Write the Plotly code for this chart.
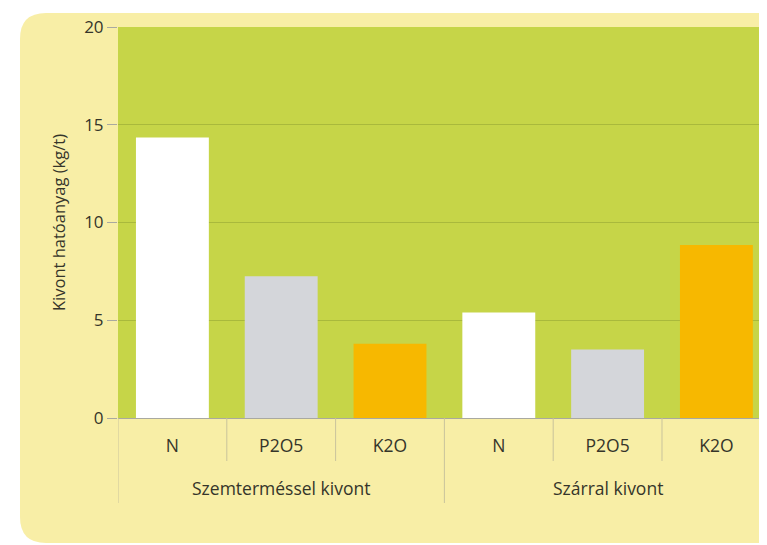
import plotly.graph_objects as go

groups = ["Szemterméssel kivont"] * 3 + ["Szárral kivont"] * 3
nutrients = ["N", "P2O5", "K2O", "N", "P2O5", "K2O"]
values = [14.35, 7.25, 3.8, 5.4, 3.5, 8.85]
bar_colors = ["#ffffff", "#d4d6da", "#f7b800", "#ffffff", "#d4d6da", "#f7b800"]
y_ticks = [0, 5, 10, 15, 20]

OFF = 8  # default body margin of the html page
W, H = 767, 545 - OFF
L, T = 118 - OFF, 27 - OFF
B, R = H - (418 - OFF), 0
pw, ph = W - L - R, H - T - B
cat_px = 108.8
FONT = "Open Sans, Lato, sans-serif"
TXT = "#35352a"

def px(x):
    return (x - OFF - L) / pw

def py(y):
    return (H - B - (y - OFF)) / ph

xi = list(range(len(nutrients)))

# rounded yellow panel (left corners rounded, right side runs off the page)
x0, x1, y0, y1 = px(20), px(840), py(543), py(13)
rx, ry = 26 / pw, 26 / ph
panel = (f"M {x0+rx},{y1} L {x1},{y1} L {x1},{y0} L {x0+rx},{y0} "
         f"Q {x0},{y0} {x0},{y0+ry} L {x0},{y1-ry} Q {x0},{y1} {x0+rx},{y1} Z")

shapes = [
    dict(type="path", xref="paper", yref="paper", path=panel,
         fillcolor="#f8eea6", line=dict(width=0), layer="below"),
    dict(type="rect", xref="paper", yref="paper", x0=0, x1=1, y0=0, y1=1,
         fillcolor="#c6d548", line=dict(width=0), layer="below"),
]

# category separators below the axis
sep_color = "#c9c39c"
for i in range(len(nutrients) + 1):
    b = i - 0.5
    is_group_edge = (i == 0 or i == len(nutrients) or groups[i] != groups[i - 1])
    y_end = py(503) if is_group_edge else py(461)
    shapes.append(dict(type="line", xref="x", yref="paper", x0=b, x1=b,
                       y0=0, y1=y_end, line=dict(color=sep_color, width=1)))

# group labels
annotations = []
seen = []
for g in groups:
    if g not in seen:
        seen.append(g)
for g in seen:
    idx = [i for i, gg in enumerate(groups) if gg == g]
    annotations.append(dict(text=g, x=sum(idx) / len(idx), xref="x",
                            y=py(488), yref="paper", showarrow=False,
                            xanchor="center", yanchor="middle",
                            font=dict(family=FONT, size=17.5, color=TXT)))

fig = go.Figure()
fig.add_trace(go.Bar(
    x=xi, y=values,
    marker=dict(color=bar_colors, line=dict(width=0)),
    width=0.67,
))

fig.update_layout(
    width=W, height=H,
    margin=dict(l=L, r=R, t=T, b=B),
    paper_bgcolor="#ffffff",
    plot_bgcolor="rgba(0,0,0,0)",
    showlegend=False,
    font=dict(family=FONT, size=17, color=TXT),
    shapes=shapes,
    annotations=annotations,
)

fig.update_xaxes(
    range=[-0.5, -0.5 + pw / cat_px],
    tickmode="array", tickvals=xi, ticktext=nutrients,
    showline=True, linecolor="#a9a9a0", linewidth=1,
    ticks="", ticklabelstandoff=12,
    showgrid=False, zeroline=False,
    tickfont=dict(size=17.5, color=TXT),
)

fig.update_yaxes(
    range=[0, 20], tickvals=y_ticks,
    showgrid=True, gridcolor="#a9b93c", gridwidth=1,
    zeroline=False,
    ticks="outside", ticklen=10, tickcolor="#a9a9a0",
    title=dict(text="Kivont hatóanyag (kg/t)", standoff=14, font=dict(size=16.5)),
    tickfont=dict(size=17, color=TXT),
)

fig.write_html("out.html")
